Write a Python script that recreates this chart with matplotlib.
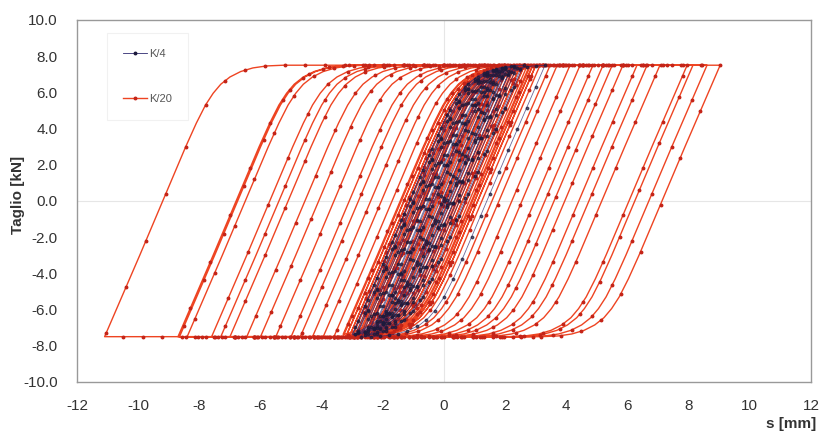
import numpy as np
import matplotlib
matplotlib.use("Agg")
import matplotlib.pyplot as plt

# shape of one branch, read off the outer K/20 loop:
# slip travelled since the last reversal [mm] -> change of shear [kN]
branch_ds = [0.0, 1.0, 1.9, 2.6, 3.0, 3.3, 3.55, 3.8, 4.1, 4.45, 4.85, 5.3, 5.8, 40.0]
branch_dF = [0.0, 3.9, 7.5, 10.3, 11.8, 12.8, 13.45, 13.95, 14.35, 14.65, 14.85, 14.96, 15.0, 15.0]
f_max = 7.5

# reversal points of the slip history (min / max alternating), in test order
k4_rev = [-2.0, 1.6, -2.4, 2.0, -2.7, 2.2, -2.2, 1.8, -3.0, 2.4, -2.5, 1.7,
          -2.8, 2.3, -2.1, 2.5, -2.6, 1.9, -2.9, 2.1, -2.3, 3.3, -2.7, 2.0,
          -3.0, 2.6, -2.4, 1.5, -2.8, 2.2, -2.2, 1.0]
k20_rev = [-2.4, 1.8, -2.7, 2.1, -3.0, 2.4, -2.5, 2.6, -2.9, 2.0, -3.2, 2.8,
           -2.6, 2.3, -2.8, 2.9, -3.1, 2.5, -2.3, 2.7, -3.0, 3.0,
           -2.2, 1.6, -2.5, 2.2, -3.2, 1.9, -2.1, 2.6, -2.9, 1.7, -2.4, 3.0,
           -3.1, 2.3, -2.0, 2.8, -2.7, 1.5, -3.3, 2.5, -2.6, 2.9,
           -3.3, 3.14, -3.6, 3.47, -3.95, 3.7, -4.3, 4.12, -4.7, 4.45,
           -5.0, 4.87, -5.5, 5.2, -6.0, 5.5, -6.45, 5.85, -7.0, 6.31,
           -7.3, 6.64, -7.6, 7.06, -8.4, 7.95, -8.7, 8.14, -11.1, 8.6,
           -8.65, 9.03, -2.0]

x_ticks = [-12, -10, -8, -6, -4, -2, 0, 2, 4, 6, 8, 10, 12]
y_ticks = [-10, -8, -6, -4, -2, 0, 2, 4, 6, 8, 10]


def loop(rev, step=0.05):
    s_all, f_all = [0.0], [0.0]
    s0, f0 = 0.0, 0.0
    n = len(branch_ds) - 1
    for target in rev:
        d = 1 if target > s0 else -1
        x0 = np.interp(f_max + d * f0, branch_dF[:n], branch_ds[:n])
        s = np.arange(s0, target, d * step)[1:]
        s = np.append(s, target)
        f = d * (np.interp(x0 + np.abs(s - s0), branch_ds, branch_dF) - f_max)
        s_all.extend(s)
        f_all.extend(f)
        s0, f0 = target, f[-1]
    return np.array(s_all), np.array(f_all)


plt.rcParams['font.family'] = ['Liberation Sans', 'DejaVu Sans']
plt.rcParams['axes.unicode_minus'] = False
fig = plt.figure(figsize=(8.2, 4.34), dpi=100)
ax = fig.add_axes([0.094, 0.12, 0.895, 0.834])

ax.axhline(0, color='#e6e6e6', lw=0.8, zorder=0)
ax.axvline(0, color='#e6e6e6', lw=0.8, zorder=0)

s20, f20 = loop(k20_rev)
ax.plot(s20, f20, color='#ee4422', lw=1.0, marker='o', ms=1.8,
        mfc='#c42418', mec='#c42418', markevery=13, label='K/20', zorder=3)
s4, f4 = loop(k4_rev)
ax.plot(s4, f4, color='#2e2a70', lw=0.6, marker='o', ms=1.8, alpha=0.7,
        mfc='#1c1a3c', mec='#1c1a3c', markevery=6, label='K/4', zorder=4)

ax.set_xlim(-12, 12)
ax.set_ylim(-10, 10)
ax.set_xticks(x_ticks)
ax.set_yticks(y_ticks)
ax.set_yticklabels([f'{v:.1f}' for v in y_ticks])
ax.tick_params(length=0, labelsize=11, labelcolor='#333333')
ax.tick_params(axis='y', pad=14)
ax.tick_params(axis='x', pad=12)
for sp in ax.spines.values():
    sp.set_color('#999999')
    sp.set_linewidth(1.0)

h, l = ax.get_legend_handles_labels()
leg = ax.legend(h[::-1], l[::-1], loc='upper left', bbox_to_anchor=(0.041, 0.964),
                fontsize=8, labelspacing=3.2, borderpad=1.4, handlelength=2.2,
                handletextpad=0.2, frameon=True, fancybox=False, borderaxespad=0)
leg.get_frame().set_edgecolor('#eeeeee')
leg.get_frame().set_linewidth(0.8)
for t in leg.get_texts():
    t.set_color('#555555')
for lh in leg.get_lines():
    lh.set_alpha(1)

fig.text(0.022, 0.55, 'Taglio [kN]', rotation=90, ha='center', va='center',
         fontsize=11, fontweight='bold', color='#333333')
fig.text(0.996, 0.022, 's [mm]', ha='right', va='center',
         fontsize=11, fontweight='bold', color='#333333')

fig.savefig('out.png', dpi=100)
